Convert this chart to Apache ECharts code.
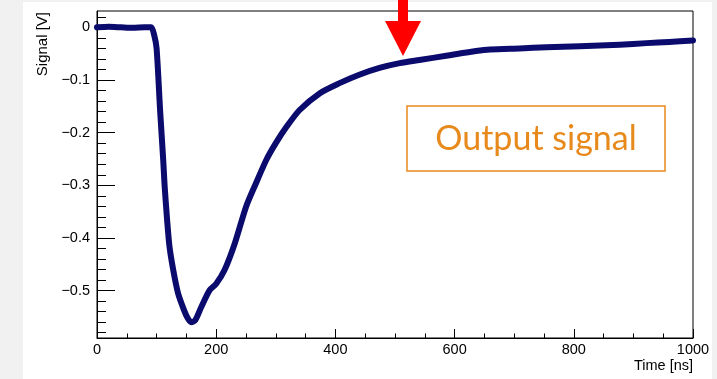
<!DOCTYPE html>
<html>
<head>
<meta charset="utf-8">
<script src="https://cdn.jsdelivr.net/npm/echarts@6/dist/echarts.min.js"></script>
<style>
html,body{margin:0;padding:0;background:#f1f1f1;}
#chart{width:717px;height:379px;}
</style>
</head>
<body>
<div id="chart"></div>
<script>
// Time samples [ns]
var timeNs = [0, 20, 40, 60, 80, 91, 96, 100, 106, 111, 114, 121, 127, 136, 146, 152, 158, 165, 175, 189, 200, 214, 231, 250, 266, 284, 300, 318, 340, 374, 407, 440, 474, 508, 541, 586, 636, 660, 709, 754, 810, 877, 922, 960, 1000];
// Signal [V]
var signalV = [0.000, 0.001, 0.000, -0.001, 0.000, 0.000, -0.015, -0.040, -0.160, -0.250, -0.310, -0.410, -0.455, -0.505, -0.537, -0.552, -0.560, -0.556, -0.531, -0.499, -0.487, -0.461, -0.411, -0.341, -0.298, -0.252, -0.220, -0.189, -0.157, -0.125, -0.106, -0.090, -0.077, -0.068, -0.062, -0.054, -0.045, -0.042, -0.040, -0.038, -0.036, -0.033, -0.030, -0.028, -0.025];
// Axis ticks
var yMajorTicks = [0, -0.1, -0.2, -0.3, -0.4, -0.5];
var yMinorTicks = [0.02, -0.02, -0.04, -0.06, -0.08, -0.12, -0.14, -0.16, -0.18, -0.22, -0.24, -0.26, -0.28, -0.32, -0.34, -0.36, -0.38, -0.42, -0.44, -0.46, -0.48, -0.52, -0.54, -0.56, -0.58];
var xTitle = 'Time [ns]';
var yTitle = 'Signal [V]';
var annotation = 'Output signal';

var pts = timeNs.map(function (t, i) { return [t, signalV[i]]; });
var font = '"Liberation Sans", Arial, sans-serif';
var yMin = -0.59, yMax = 0.031;

var chart = echarts.init(document.getElementById('chart'));
chart.setOption({
  backgroundColor: '#f1f1f1',
  animation: false,
  grid: { left: 97, right: 24, top: 11, bottom: 41, show: true, borderColor: '#000', borderWidth: 1, backgroundColor: 'transparent' },
  xAxis: {
    type: 'value', min: 0, max: 1000, interval: 200,
    axisLine: { show: true, onZero: false, lineStyle: { color: '#000', width: 1 } },
    axisTick: { show: true, inside: true, length: 9, lineStyle: { color: '#000' } },
    minorTick: { show: true, splitNumber: 4, length: 4.5, lineStyle: { color: '#000' } },
    axisLabel: { color: '#000', fontFamily: font, fontSize: 14.5, margin: 4, formatter: function (v) { return String(v); } },
    splitLine: { show: false }
  },
  yAxis: [{
    type: 'value', min: yMin, max: yMax, position: 'left',
    axisLine: { show: true, onZero: false, lineStyle: { color: '#000', width: 1 } },
    axisTick: { show: true, inside: true, length: 18, customValues: yMajorTicks, lineStyle: { color: '#000' } },
    axisLabel: { color: '#000', fontFamily: font, fontSize: 14.5, margin: 7, customValues: yMajorTicks,
      formatter: function (v) { return Math.abs(v) < 1e-9 ? '0' : '\u2212' + Math.abs(v).toFixed(1); } },
    splitLine: { show: false }
  }, {
    type: 'value', min: yMin, max: yMax, position: 'left',
    axisLine: { show: false, onZero: false },
    axisTick: { show: true, inside: true, length: 9, customValues: yMinorTicks, lineStyle: { color: '#000' } },
    axisLabel: { show: false },
    splitLine: { show: false }
  }],
  series: [{
    type: 'line', data: pts, yAxisIndex: 0, showSymbol: false, smooth: 0.25,
    lineStyle: { color: '#0b0b6e', width: 6, cap: 'round', join: 'round' },
    z: 3
  }],
  graphic: [
    { type: 'rect', z: -10, silent: true, shape: { x: 23, y: 2, width: 689, height: 377 }, style: { fill: '#fff' } },
    { type: 'text', x: 43, y: 12, rotation: Math.PI / 2,
      style: { text: yTitle, font: '15px ' + font, fill: '#000', textAlign: 'right', textVerticalAlign: 'middle' } },
    { type: 'text', x: 693, y: 366,
      style: { text: xTitle, font: '14.5px ' + font, fill: '#000', textAlign: 'right', textVerticalAlign: 'middle' } },
    { type: 'rect', z: 10, shape: { x: 407, y: 106, width: 258, height: 65 }, style: { fill: '#fff', stroke: '#e8891c', lineWidth: 1.5 } },
    { type: 'text', z: 11, x: 536, y: 139,
      style: { text: annotation, font: '34px Lato, "Open Sans", sans-serif', fill: '#e8891c', textAlign: 'center', textVerticalAlign: 'middle' } },
    { type: 'rect', z: 10, shape: { x: 398, y: 0, width: 10, height: 22 }, style: { fill: '#ff0000' } },
    { type: 'polygon', z: 10, shape: { points: [[385, 21], [421, 21], [403, 56]] }, style: { fill: '#ff0000' } }
  ]
});
</script>
</body>
</html>
